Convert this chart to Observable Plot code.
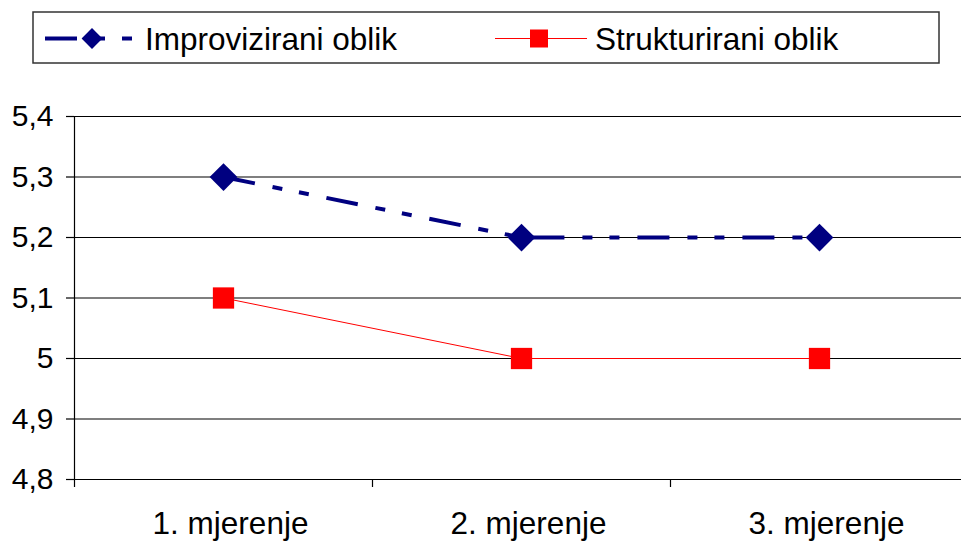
<!DOCTYPE html>
<html>
<head>
<meta charset="utf-8">
<script src="https://cdn.jsdelivr.net/npm/d3@7"></script>
<script src="https://cdn.jsdelivr.net/npm/@observablehq/plot@0.6"></script>
<style>
  html, body { margin: 0; padding: 0; background: #fff; overflow: hidden; }
  body { width: 961px; height: 541px; font-family: "Liberation Sans", Arial, sans-serif; }
  #legend, #chart svg { display: block; }
  #chart svg { max-width: none !important; }
</style>
</head>
<body>
<svg id="legend" width="961" height="70"></svg>
<div id="chart"></div>
<script>
// ---- data ----
const categories = ["1. mjerenje", "2. mjerenje", "3. mjerenje"];
const improvizirani = [5.3, 5.2, 5.2];
const strukturirani = [5.1, 5.0, 5.0];
const seriesNames = ["Improvizirani oblik", "Strukturirani oblik"];
const yTicks = [4.8, 4.9, 5.0, 5.1, 5.2, 5.3, 5.4];
const yTickLabels = ["4,8", "4,9", "5", "5,1", "5,2", "5,3", "5,4"];

const font = '"Liberation Sans", Arial, sans-serif';
const navy = "#000080";
const red = "#FF0000";
const dashPattern = "32,18,10,17,10,18";

const rowsA = categories.map((c, i) => ({cat: c, value: improvizirani[i]}));
const rowsB = categories.map((c, i) => ({cat: c, value: strukturirani[i]}));

// ---- legend (above the plot) ----
const lg = d3.select("#legend");
lg.append("rect").attr("x", 33).attr("y", 12).attr("width", 906).attr("height", 51)
  .attr("fill", "#fff").attr("stroke", "#333").attr("stroke-width", 1.5);
const ly = 38.5;
// item 1
lg.append("line").attr("x1", 45).attr("x2", 132).attr("y1", ly).attr("y2", ly)
  .attr("stroke", navy).attr("stroke-width", 4).attr("stroke-dasharray", dashPattern);
const dh = 10.4;
lg.append("path").attr("d", `M0,${-dh}L${dh},0L0,${dh}L${-dh},0Z`)
  .attr("transform", `translate(92,${ly})`).attr("fill", navy);
lg.append("text").attr("x", 145).attr("y", 50).attr("font-family", font).attr("font-size", 31.5)
  .attr("fill", "#000").text(seriesNames[0]);
// item 2
lg.append("line").attr("x1", 495).attr("x2", 587).attr("y1", ly).attr("y2", ly)
  .attr("stroke", red).attr("stroke-width", 1);
lg.append("rect").attr("x", 530).attr("y", ly - 9).attr("width", 18).attr("height", 18).attr("fill", red);
lg.append("text").attr("x", 595).attr("y", 50).attr("font-family", font).attr("font-size", 31.5)
  .attr("fill", "#000").text(seriesNames[1]);

// ---- plot ----
const chart = Plot.plot({
  width: 975,
  height: 471,
  marginLeft: 74,
  marginRight: 7,
  marginTop: 46,
  marginBottom: 62,
  style: {fontFamily: font, color: "#000", background: "transparent", overflow: "visible", maxWidth: "none"},
  x: {type: "band", domain: categories, padding: 0},
  y: {domain: [4.8, 5.4]},
  marks: [
    Plot.gridY({ticks: yTicks, stroke: "#000", strokeOpacity: 1, strokeWidth: 1.2}),
    Plot.frame({anchor: "left", stroke: "#000", strokeWidth: 1.2}),
    Plot.axisY({ticks: yTicks, tickSize: 8, tickPadding: 13, fontSize: 30, stroke: "#000", strokeWidth: 1.2,
      tickFormat: d => yTickLabels[yTicks.indexOf(d)], label: null}),
    Plot.axisX({ticks: categories, tickSize: 8, tickFormat: () => "", dx: -149, stroke: "#000", strokeWidth: 1.2, label: null}),
    Plot.axisX({ticks: categories, tickSize: 0, tickPadding: 32, fontSize: 31.5, dx: 7, label: null}),
    Plot.line(rowsB, {x: "cat", y: "value", stroke: red, strokeWidth: 1}),
    Plot.line(rowsA, {x: "cat", y: "value", stroke: navy, strokeWidth: 4, strokeDasharray: dashPattern, strokeLinecap: "butt"}),
    Plot.dot(rowsB, {x: "cat", y: "value", symbol: "square", r: 12, fill: red, stroke: null}),
    Plot.dot(rowsA, {x: "cat", y: "value", symbol: "diamond2", r: 12.5, fill: navy, stroke: null})
  ]
});
document.getElementById("chart").appendChild(chart);
</script>
</body>
</html>
